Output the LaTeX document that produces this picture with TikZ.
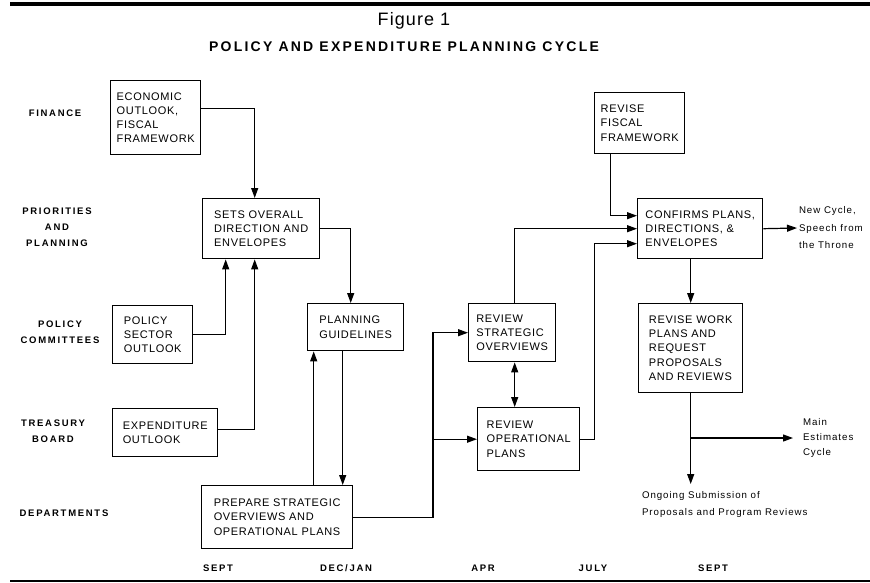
\documentclass[tikz,border=0pt]{standalone}
\usepackage{fontspec}
\setmainfont{Liberation Sans}
\usetikzlibrary{arrows.meta}
\tikzset{>={Triangle[length=10pt,width=7pt]}}
\tikzset{
  blk/.style={draw, line width=1.4pt, anchor=north west, align=left,
    inner xsep=6pt, inner ysep=3pt,
    font=\fontsize{11}{14.3}\selectfont\addfontfeature{LetterSpace=6}},
  lane/.style={align=center,
    font=\bfseries\fontsize{9.5}{16}\selectfont\addfontfeature{LetterSpace=18}},
  month/.style={font=\bfseries\fontsize{9.5}{12}\selectfont\addfontfeature{LetterSpace=18}},
  note/.style={align=left, inner sep=0pt, outer sep=0pt,
    font=\fontsize{9.7}{17}\selectfont\addfontfeature{LetterSpace=10}},
  flow/.style={->, line width=1.2pt},
}

\begin{document}
\begin{tikzpicture}[x=1pt,y=-1pt]
    \useasboundingbox (0,0) rectangle (870,583);
    \draw[line width=3.5pt] (10,4) -- (870,4);
    \draw[line width=2.5pt] (10,581) -- (870,581);

    \node[font=\fontsize{18}{20}\selectfont\addfontfeature{LetterSpace=6}] (title) at (414,21) {Figure 1};
    \node[font=\bfseries\fontsize{14}{16}\selectfont\addfontfeature{LetterSpace=16}] (subtitle) at (404,47) {POLICY AND EXPENDITURE PLANNING CYCLE};

    % lanes
    \node[lane] (fin) at (55,113) {FINANCE};
    \node[lane] (pp) at (57,227) {PRIORITIES\\AND\\PLANNING};
    \node[lane] (pc) at (60,332) {POLICY\\COMMITTEES};
    \node[lane] (tb) at (53,431) {TREASURY\\BOARD};
    \node[lane] (dept) at (64,513) {DEPARTMENTS};
    \foreach \mx/\mname [count=\k] in {218/SEPT, 346/{DEC/JAN}, 483/APR, 593/JULY, 713/SEPT}
        \node[month] (month\k) at (\mx,568) {\mname};

    % boxes
    \node[blk, minimum width=90, minimum height=74] (econ) at (110,80) {ECONOMIC\\OUTLOOK,\\FISCAL\\FRAMEWORK};
    \node[blk, minimum width=117, minimum height=60] (sets) at (202,198) {SETS OVERALL\\DIRECTION AND\\ENVELOPES};
    \node[blk, minimum width=80, minimum height=58] (policy) at (112,305) {POLICY\\SECTOR\\OUTLOOK};
    \node[blk, minimum width=105, minimum height=48] (expend) at (112,408) {EXPENDITURE\\OUTLOOK};
    \node[blk, minimum width=96, minimum height=47] (guide) at (307,303) {PLANNING\\GUIDELINES};
    \node[blk, minimum width=151, minimum height=63] (prepare) at (201,485) {PREPARE STRATEGIC\\OVERVIEWS AND\\OPERATIONAL PLANS};
    \node[blk, minimum width=87, minimum height=58] (rstrat) at (468,303) {REVIEW\\STRATEGIC\\OVERVIEWS};
    \node[blk, minimum width=102, minimum height=63] (rop) at (477,407) {REVIEW\\OPERATIONAL\\PLANS};
    \node[blk, minimum width=86, minimum height=61] (rfisc) at (594,92) {REVISE\\FISCAL\\FRAMEWORK};
    \node[blk, minimum width=125, minimum height=60] (confirm) at (637,198) {CONFIRMS PLANS,\\DIRECTIONS, \&\\ENVELOPES};
    \node[blk, minimum width=104, minimum height=89] (rwork) at (638,303) {REVISE WORK\\PLANS AND\\REQUEST\\PROPOSALS\\AND REVIEWS};

    % outcomes
    \node[note, anchor=west, outer xsep=2pt, font=\fontsize{9.7}{17.5}\selectfont\addfontfeature{LetterSpace=10}] (newcycle) at (797,228) {New Cycle,\\Speech from\\the Throne};
    \node[note, anchor=west, outer xsep=10pt, font=\fontsize{9.7}{15}\selectfont\addfontfeature{LetterSpace=10}] (mainest) at (793,438) {Main\\Estimates\\Cycle};
    \node[note, anchor=north west, outer ysep=7pt] (ongoing) at (642,484) {Ongoing Submission of\\Proposals and Program Reviews};

    % connectors
    \draw[flow] ([yshift=9]econ.east) -| ([xshift=-6.5]sets.north);
    \draw[flow] (policy.east) -| ([xshift=-35.5]sets.south);
    \draw[flow] ([yshift=3]expend.east) -| ([xshift=-6.5]sets.south);
    \draw[flow] (sets.east) -| ([xshift=-5]guide.north);
    \draw[flow] ([xshift=36.5]prepare.north) -- ([xshift=-42]guide.south);
    \draw[flow] ([xshift=-13]guide.south) -- ([xshift=65.5]prepare.north);
    \coordinate (fork) at ([xshift=-35]rstrat.west);
    \draw[flow] (prepare.east) -| (fork) -- (rstrat.west);
    \draw[flow] (fork |- rop.west) -- (rop.west);
    \draw[flow, <->] ([xshift=2.5]rstrat.south) -- ([xshift=-14]rop.north);
    \draw[flow] ([xshift=2.5]rstrat.north) |- (confirm.west);
    \draw[flow] (rop.east) -- ++(14,0) |- ([yshift=-15]confirm.west);
    \draw[flow] ([xshift=-29]rfisc.south) |- ([yshift=13]confirm.west);
    \draw[flow] (confirm.east) -- (newcycle.west);
    \draw[flow] ([xshift=-9.5]confirm.south) -- (rwork.north);
    \draw[flow] (rwork.south) -- (rwork.south |- ongoing.north);
    \draw[flow] (rwork.south |- mainest.west) -- (mainest.west);
\end{tikzpicture}
\end{document}
